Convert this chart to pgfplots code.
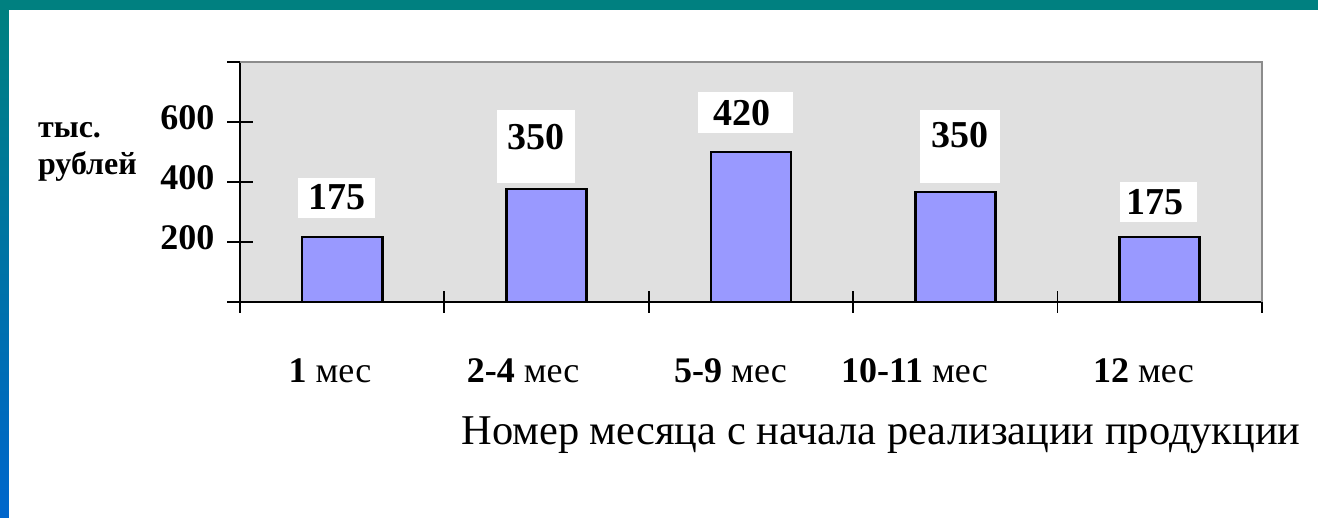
\documentclass[border=0pt]{standalone}
\usepackage{pgfplots}
\pgfplotsset{compat=1.18}
\usepackage{fontspec}
\setmainfont{Liberation Serif}
\definecolor{barc}{HTML}{9999FF}
\definecolor{plotbg}{HTML}{E0E0E0}
\definecolor{teal1}{HTML}{008080}
\definecolor{blue1}{HTML}{0066CC}
\definecolor{frameg}{HTML}{8C8C8C}

\begin{document}
\begin{tikzpicture}
\fill[white] (-120pt,-108pt) rectangle (539pt,151pt);
\fill[teal1] (-120pt,146pt) rectangle (539pt,151pt);
\shade[top color=teal1, bottom color=blue1] (-120pt,-108pt) rectangle (-115.5pt,146pt);
\begin{axis}[
  at={(0,0)}, anchor=south west,
  scale only axis, width=511pt, height=120pt,
  xmin=-0.5, xmax=4.5, ymin=0, ymax=800,
  axis background/.style={fill=plotbg},
  axis x line*=bottom, axis y line*=left,
  axis line style={-, black, line width=1pt},
  ybar, bar width=40pt,
  ytick={0,200,400,600,800}, yticklabels={,200,400,600,},
  xtick={-0.06,0.885,1.9,2.8,3.92},
  xticklabels={{\textbf{1} мес},{\textbf{2-4} мес},{\textbf{5-9} мес},{\textbf{10-11} мес},{\textbf{12} мес}},
  minor xtick={-0.5,0.5,1.5,2.5,3.5,4.5},
  tick align=center,
  major tick length=12.5pt, minor tick length=11pt,
  tick style={black, line width=0.9pt},
  major x tick style={draw=none},
  xticklabel style={font=\fontsize{18}{18}\selectfont, anchor=base, yshift=-34pt},
  yticklabel style={font=\fontsize{18}{18}\selectfont\bfseries, xshift=-3pt, yshift=2pt},
  clip=false,
]
\addplot[ybar, fill=barc, draw=black, line width=1.3pt] coordinates {(0,217) (1,377) (2,500) (3,367) (4,217)};
\fill[white] (axis cs:-0.216,280) rectangle (axis cs:0.160,413);
\fill[white] (axis cs:0.757,397) rectangle (axis cs:1.139,640);
\fill[white] (axis cs:1.741,563) rectangle (axis cs:2.205,700);
\fill[white] (axis cs:2.827,397) rectangle (axis cs:3.218,640);
\fill[white] (axis cs:3.805,267) rectangle (axis cs:4.182,400);
\node[font=\fontsize{19}{19}\selectfont\bfseries] at (axis cs:-0.025,350) {175};
\node[font=\fontsize{19}{19}\selectfont\bfseries] at (axis cs:0.948,550) {350};
\node[font=\fontsize{19}{19}\selectfont\bfseries] at (axis cs:1.956,630) {420};
\node[font=\fontsize{19}{19}\selectfont\bfseries] at (axis cs:3.022,557) {350};
\node[font=\fontsize{19}{19}\selectfont\bfseries] at (axis cs:3.976,333) {175};
\end{axis}
\draw[frameg, line width=1pt] (0,120pt) -- (511pt,120pt) -- (511pt,0);
\node[anchor=base west, font=\fontsize{16}{16}\selectfont\bfseries] at (-104.5pt,82pt) {тыс.};
\node[anchor=base west, font=\fontsize{16}{16}\selectfont\bfseries] at (-104.5pt,63.5pt) {рублей};
\node[anchor=base, font=\fontsize{21.2}{21.2}\selectfont] at (320.5pt,-71.5pt) {Номер месяца с начала реализации продукции};
\end{tikzpicture}
\end{document}
